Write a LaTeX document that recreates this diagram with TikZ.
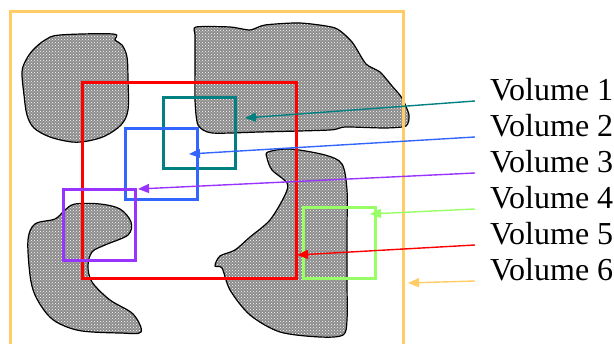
\documentclass[tikz,border=0pt]{standalone}
\usepackage{fontspec}
\setmainfont{Liberation Serif}
\usetikzlibrary{arrows.meta,patterns}
\definecolor{vteal}{RGB}{0,128,128}
\definecolor{vblue}{RGB}{51,102,255}
\definecolor{vpurple}{RGB}{153,51,255}
\definecolor{vgreen}{RGB}{153,255,102}
\definecolor{vred}{RGB}{255,0,0}
\definecolor{vorange}{RGB}{255,204,102}
\begin{document}
\begin{tikzpicture}[x=1pt,y=-1pt,
    blob/.style={draw=black,line width=1.2pt,preaction={fill=black!45},
      pattern=crosshatch dots,pattern color=white},
    vbox/.style={line width=3pt},
    pointer/.style={line width=1.4pt,-{Triangle[length=11pt,width=9pt]}},
    lbl/.style={anchor=base west,inner xsep=15pt,inner ysep=0pt,
      font=\fontsize{32}{36}\selectfont}]
  \useasboundingbox (0,0) rectangle (614,344);
  % the solid regions
  \draw[blob] plot[smooth cycle,tension=0.55] coordinates {(60,35) (113,34)
    (115,40) (122,45) (127,57) (128,80) (128,110) (121,125) (105,136) (88,141)
    (72,142) (50,137) (34,128) (27,115) (24,95) (22,72) (26,60) (33,50) (45,40)};
  \draw[blob] plot[smooth cycle,tension=0.4] coordinates {(196,27) (230,27)
    (250,30) (265,25) (300,23) (335,28) (352,42) (366,64) (380,72) (392,86)
    (402,98) (409,115) (406,126) (385,128) (345,127) (330,130) (260,132)
    (212,133) (198,125) (195,100) (195,60) (195,35)};
  \draw[blob] plot[smooth cycle,tension=0.55] coordinates {(35,224) (55,219)
    (65,210) (75,204) (100,204) (120,209) (131,222) (128,235) (105,245) (92,252)
    (88,266) (92,282) (110,300) (133,314) (141,332) (120,333) (82,331) (60,324)
    (47,314) (35,295) (30,275) (28,240)};
  \draw[blob] plot[smooth cycle,tension=0.5] coordinates {(268,152) (290,149)
    (325,155) (342,164) (347,190) (347,230) (347,280) (347,320) (343,335)
    (320,337) (280,332) (250,315) (230,290) (222,268) (215,266) (220,256)
    (235,250) (250,237) (270,220) (285,195) (287,183) (272,170) (267,158)};
  % the volumes
  \draw[vbox,vorange] (10,344) -- (10,12) -- (403,12) -- (403,344);
  \draw[vbox,vred] (82,83) rectangle (296,279);
  \draw[vbox,vteal] (163,98) rectangle (235,169);
  \draw[vbox,vblue] (125,129) rectangle (197,200);
  \draw[vbox,vpurple] (63,190) rectangle (135,261);
  \draw[vbox,vgreen] (303,208) rectangle (375,279);
  % labels and pointers
  \foreach \i/\c/\tx/\ty in {1/vteal/245/118, 2/vblue/189/154,
      3/vpurple/138/189, 4/vgreen/370/214, 5/vred/297/255, 6/vorange/408/283}{
    \node[lbl] (v\i) at (475,{65+36*\i}) {Volume \i};
    \coordinate (t\i) at (\tx,\ty);
    \draw[pointer,\c] (v\i.base west) -- (t\i);
  }
\end{tikzpicture}
\end{document}
